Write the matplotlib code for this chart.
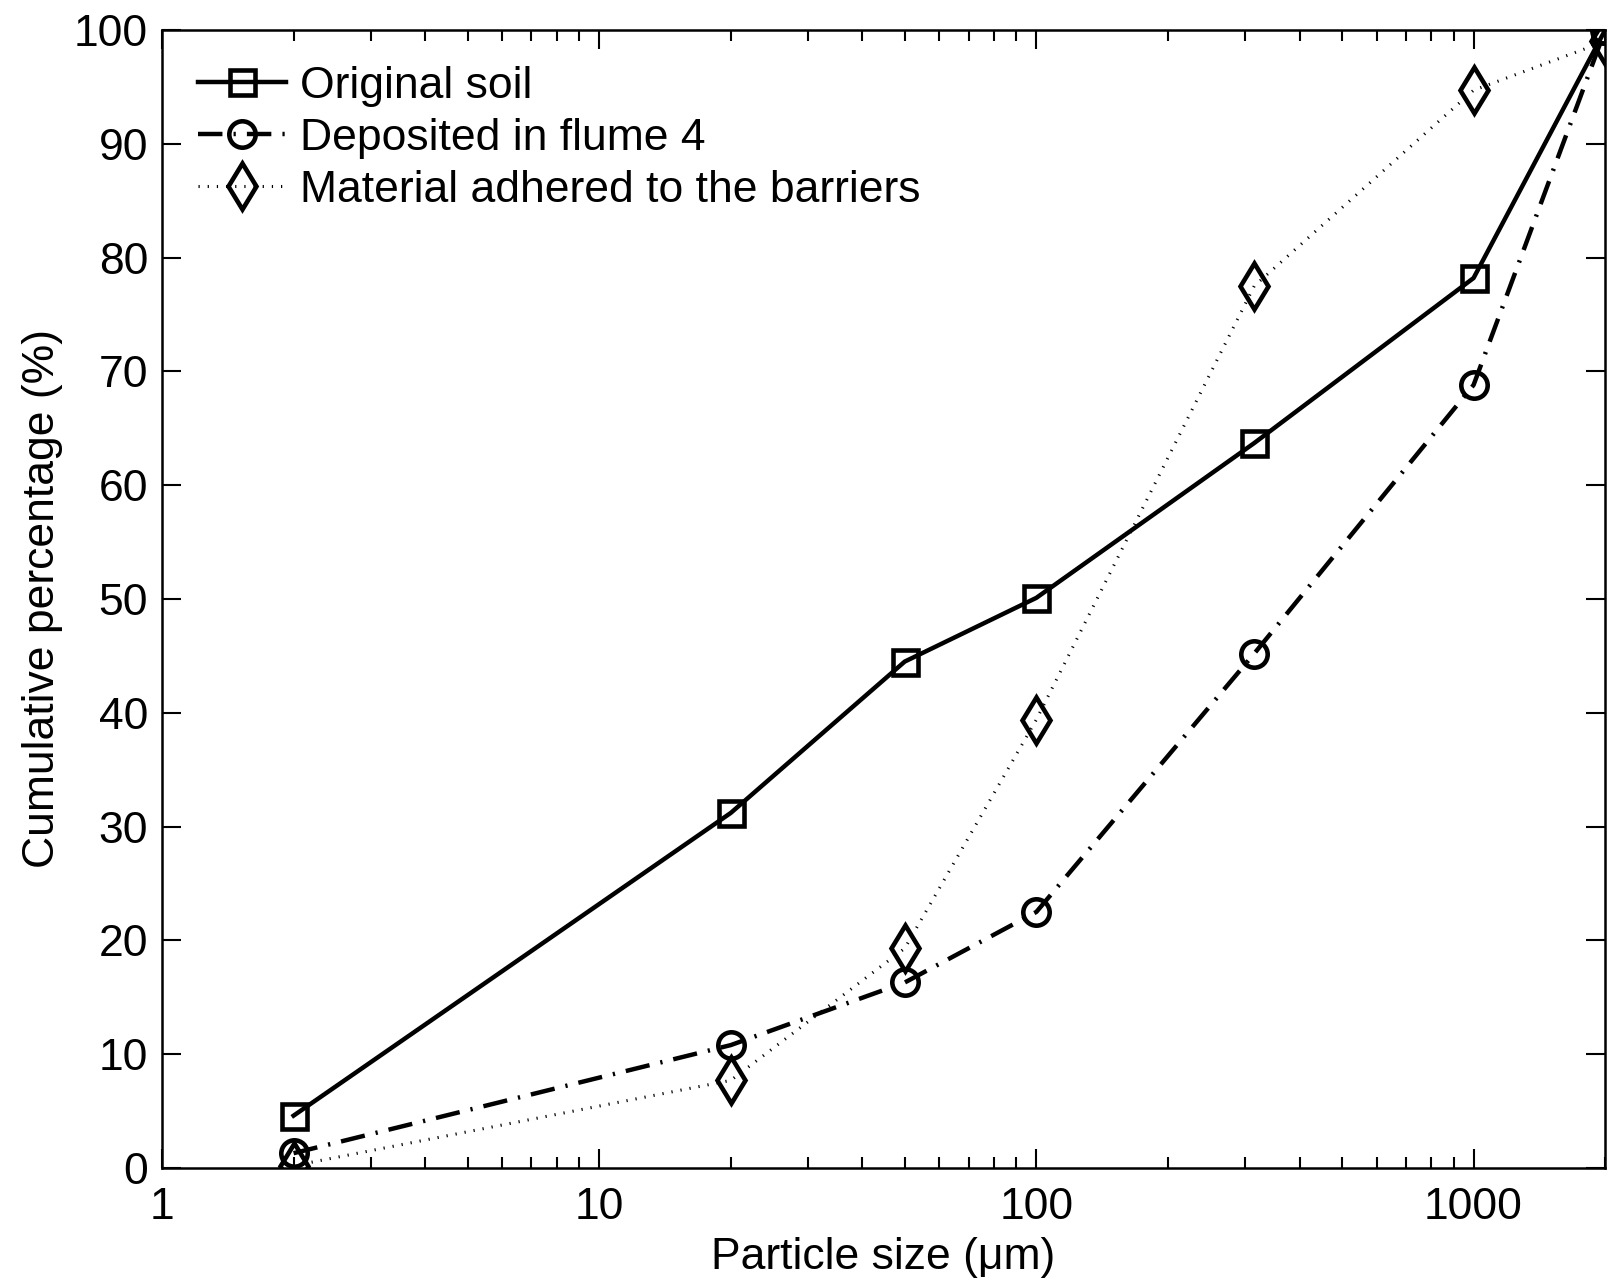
import matplotlib
matplotlib.use("Agg")
import matplotlib.pyplot as plt

plt.rcParams['font.family'] = ['Liberation Sans', 'DejaVu Sans']

size = [2, 20, 50, 100, 315, 1000, 2000]
original = [4.6, 31.2, 44.5, 50.1, 63.7, 78.2, 100]
deposited = [1.3, 10.8, 16.3, 22.5, 45.2, 68.8, 100]
adhered = [0.2, 7.7, 19.3, 39.4, 77.5, 94.7, 99.0]

fig = plt.figure(figsize=(16.1, 12.8), dpi=100)
ax = fig.add_axes([0.1006, 0.0875, 0.8964, 0.8891])

mk = dict(color='black', markerfacecolor='none', markeredgewidth=3.3, linewidth=3.2)
ax.plot(size, original, '-', marker='s', markersize=18, label='Original soil', **mk)
ax.plot(size, deposited, marker='o', markersize=19, dashes=(5.5, 2.5, 0.5, 2.5),
        label='Deposited in flume 4', **mk)
ax.plot(size, adhered, marker='d', markersize=23, linestyle=(0, (0.4, 2.6)), linewidth=2.2,
        color='black', markerfacecolor='none', markeredgewidth=3.3,
        label='Material adhered to the barriers')

ax.set_xscale('log')
ax.set_xlim(1, 2000)
ax.set_ylim(0, 100)
ax.set_yticks(range(0, 101, 10))
ax.set_xticks([1, 10, 100, 1000])
ax.set_xticklabels(['1', '10', '100', '1000'])
ax.tick_params(which='both', direction='in', top=True, right=True, labelsize=32, width=1.5)
ax.tick_params(which='major', length=14)
ax.tick_params(which='minor', length=8)
ax.tick_params(axis='x', pad=14)
ax.tick_params(axis='y', pad=10)
for s in ax.spines.values():
    s.set_linewidth(1.8)

ax.set_xlabel('Particle size (\u03bcm)', fontsize=32, labelpad=6)
ax.set_ylabel('Cumulative percentage (%)', fontsize=32, labelpad=8)
ax.legend(loc='upper left', frameon=False, fontsize=32, handlelength=2.0, handletextpad=0.3,
          labelspacing=0.25, borderaxespad=0.4)

fig.savefig('out.png', dpi=100)
